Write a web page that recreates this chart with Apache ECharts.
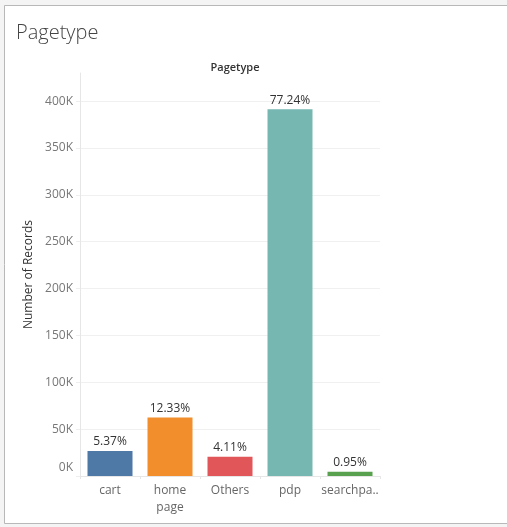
<!DOCTYPE html>
<html>
<head>
<meta charset="utf-8">
<script src="https://cdn.jsdelivr.net/npm/echarts@6/dist/echarts.min.js"></script>
<style>
  html, body { margin: 0; padding: 0; background: #f4f4f4; }
  #main { width: 507px; height: 527px; }
</style>
</head>
<body>
<div id="main"></div>
<script>
// page types and record counts
var pageTypes = ['cart', 'home page', 'Others', 'pdp', 'searchpage'];
var records = [26800, 62300, 20600, 391200, 4600];
var shareLabels = ['5.37%', '12.33%', '4.11%', '77.24%', '0.95%'];
var barColors = ['#4e79a7', '#f28e2b', '#e15759', '#76b7b2', '#59a14f'];

var chartDom = document.getElementById('main');
var myChart = echarts.init(chartDom);

var option = {
    backgroundColor: 'transparent',
    textStyle: { fontFamily: 'Open Sans' },
    graphic: [
        {
            type: 'rect',
            z: -10,
            silent: true,
            shape: { x: 4.5, y: 5.5, width: 520, height: 518 },
            style: { fill: '#ffffff', stroke: '#b8b8b8', lineWidth: 1 }
        }
    ],
    title: [
        {
            text: 'Pagetype',
            left: 11,
            top: 18,
            textStyle: { fontSize: 20, fontWeight: 300, color: '#444', fontFamily: 'Open Sans' }
        },
        {
            text: 'Pagetype',
            left: 230,
            top: 57,
            textAlign: 'center',
            textStyle: { fontSize: 11, fontWeight: 600, color: '#333', fontFamily: 'Open Sans' }
        }
    ],
    grid: {
        left: 80,
        right: 127,
        top: 73,
        bottom: 51
    },
    xAxis: {
        type: 'category',
        data: pageTypes,
        axisLine: { lineStyle: { color: '#e6e6e6' } },
        axisTick: { show: true, length: 3, lineStyle: { color: '#e6e6e6' } },
        axisLabel: {
            color: '#666',
            fontSize: 12,
            margin: 6,
            lineHeight: 17,
            interval: 0,
            formatter: function (val) {
                if (val.indexOf(' ') >= 0) {
                    return val.replace(' ', '\n');
                }
                if (val.length > 8) {
                    return val.slice(0, 8) + '..';
                }
                return val;
            }
        }
    },
    yAxis: {
        type: 'value',
        min: 0,
        max: 430000,
        interval: 50000,
        name: 'Number of Records',
        nameLocation: 'middle',
        nameGap: 42,
        nameTextStyle: { color: '#333', fontSize: 12 },
        axisLine: { show: true, lineStyle: { color: '#e6e6e6' } },
        axisTick: { show: true, length: 4, lineStyle: { color: '#eeeeee' } },
        axisLabel: {
            color: '#777',
            fontSize: 12,
            margin: 7,
            showMaxLabel: false,
            formatter: function (v) {
                if (v % 50000 !== 0) return '';
                if (v === 0) return '{zero|0K}';
                return (v / 1000) + 'K';
            },
            rich: {
                zero: { color: '#777', fontSize: 12, padding: [0, 0, 17, 0] }
            }
        },
        splitLine: { show: true, showMaxLine: false, lineStyle: { color: '#f0f0f0' } }
    },
    series: [
        {
            type: 'bar',
            data: records.map(function (v, i) {
                return { value: v, itemStyle: { color: barColors[i] } };
            }),
            barWidth: '75%',
            label: {
                show: true,
                position: 'top',
                distance: 3,
                color: '#333',
                fontSize: 12,
                formatter: function (p) {
                    return shareLabels[p.dataIndex];
                }
            }
        }
    ]
};
myChart.setOption(option);
</script>
</body>
</html>
